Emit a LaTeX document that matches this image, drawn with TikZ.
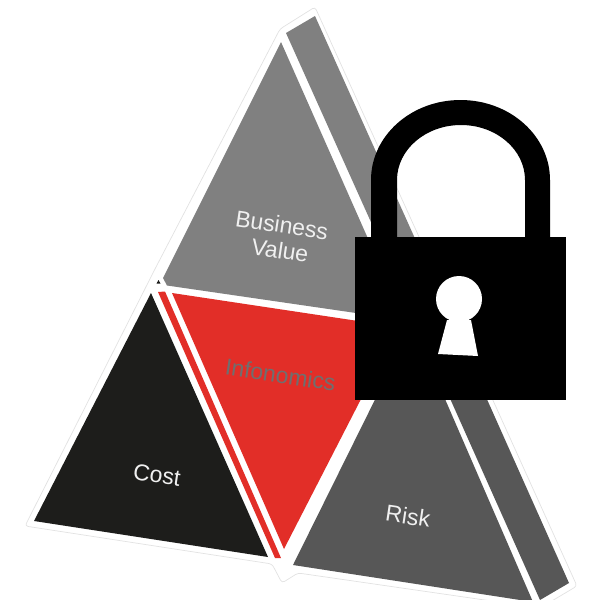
\documentclass[tikz,border=0pt]{standalone}
\usepackage{fontspec}
\setmainfont{Liberation Sans}
\definecolor{midgray}{HTML}{808080}
\definecolor{riskgray}{HTML}{575757}
\definecolor{costblack}{HTML}{1D1D1B}
\definecolor{infored}{HTML}{E22E28}
\definecolor{hairline}{HTML}{E2E2E2}
\definecolor{infotext}{HTML}{6F6F6F}
\tikzset{
  label text/.style={font=\fontsize{23}{25.5}\selectfont,text=white!94!black,rotate=-8.5,inner sep=0pt,align=center},
}
\begin{document}
\begin{tikzpicture}[x=1pt,y=-1pt]
\useasboundingbox (0,0) rectangle (590,600);
\clip (0,0) rectangle (590,600);
% halo
\draw[hairline,line width=0.7pt,fill=white,rounded corners=3pt]
  (280,29) -- (315,7) -- (577,586) -- (540,608) -- (298,573) -- (282,583) -- (272,564)
  -- (25,526) -- (156,267) -- cycle;
% side strip
\fill[midgray] (286,33) -- (315,16) -- (448,312) -- (419,329) -- cycle;
\fill[riskgray] (419,329) -- (448,312) -- (569,583) -- (540,600) -- cycle;
% faces
\fill[midgray] (281,42) -- (404,320) -- (167,285.5) -- (163,278) -- cycle;
\fill[infored] (172,293) -- (398,327) -- (284,549) -- cycle;
\fill[infored] (158,292) -- (165,291.5) -- (281,558) -- (275,558) -- cycle;
\fill[costblack] (151,293) -- (268,557) -- (34,521) -- cycle;
\fill[riskgray] (412.5,324) -- (533,602) -- (293,565) -- cycle;
\fill[costblack] (156.5,283.5) -- (158.5,280) -- (160.5,283.5) -- cycle;
% labels
\node[label text] (business) at (280,237.5) {Business\\\hspace*{4pt}Value};
\node[label text,text=infotext] (infonomics) at (280.5,375) {Infonomics};
\node[label text] (cost) at (157,475) {Cost};
\node[label text] (risk) at (408,516) {Risk};
% padlock
\fill[black] (371,238) -- (371,180) arc[x radius=89.5,y radius=80,start angle=180,end angle=360]
  -- (550,238) -- (525,238) -- (525,180)
  arc[x radius=64,y radius=55,start angle=0,end angle=-180] -- (397,238) -- cycle;
\fill[black] (355,237) rectangle (566,400);
\fill[white] (447,320) -- (438,354) -- (478,356) -- (471,320) -- cycle;
\fill[white] (459,299) circle[radius=23];
\end{tikzpicture}
\end{document}
